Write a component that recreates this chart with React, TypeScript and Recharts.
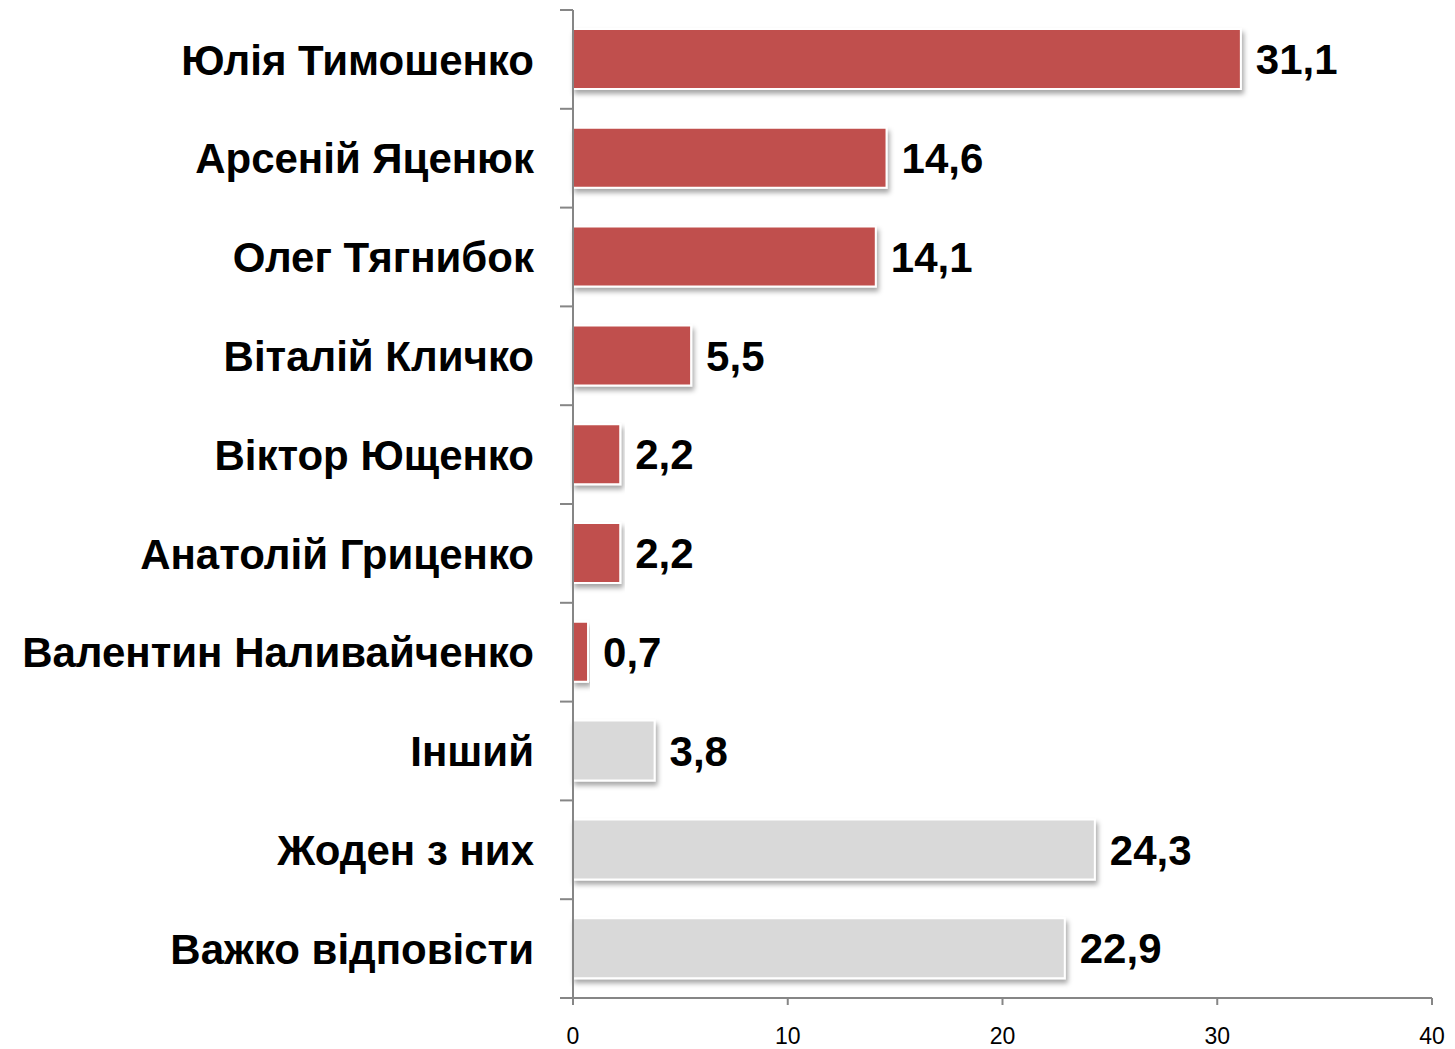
import { BarChart, Bar, XAxis, YAxis, Cell, LabelList } from 'recharts'

const names = [
  'Юлія Тимошенко',
  'Арсеній Яценюк',
  'Олег Тягнибок',
  'Віталій Кличко',
  'Віктор Ющенко',
  'Анатолій Гриценко',
  'Валентин Наливайченко',
  'Інший',
  'Жоден з них',
  'Важко відповісти',
]
const values = [31.1, 14.6, 14.1, 5.5, 2.2, 2.2, 0.7, 3.8, 24.3, 22.9]
const isCandidate = [true, true, true, true, true, true, true, false, false, false]
const xTicks = [0, 10, 20, 30, 40]

const RED = '#C0504D'
const GREY = '#D9D9D9'
const AXIS = '#868686'
const FONT = '"Liberation Sans", Arial, sans-serif'

const W = 1455
const H = 1049
const X_AXIS_H = 51
const M = { top: 10, right: 23, bottom: 0, left: 0 }
const AXIS_X = 573
const BAND = (H - M.top - X_AXIS_H) / names.length

const data = names.map((name, i) => ({
  name,
  value: values[i],
  color: isCandidate[i] ? RED : GREY,
}))

function CategoryTick(props: any) {
  const { y, payload, index } = props
  const top = y - BAND / 2
  return (
    <g>
      <line x1={AXIS_X - 13} x2={AXIS_X} y1={top} y2={top} stroke={AXIS} strokeWidth={2} />
      {index === names.length - 1 && (
        <line x1={AXIS_X - 13} x2={AXIS_X} y1={top + BAND} y2={top + BAND} stroke={AXIS} strokeWidth={2} />
      )}
      <text
        x={534}
        y={y}
        dy="0.36em"
        textAnchor="end"
        fontFamily={FONT}
        fontWeight="bold"
        fontSize={42}
        fill="#000"
      >
        {payload.value}
      </text>
    </g>
  )
}

function ValueLabel(props: any) {
  const { x, y, width, height, value } = props
  return (
    <text
      x={x + width + 15}
      y={y + height / 2}
      dy="0.36em"
      textAnchor="start"
      fontFamily={FONT}
      fontWeight="bold"
      fontSize={42}
      fill="#000"
    >
      {String(value).replace('.', ',')}
    </text>
  )
}

export default function App() {
  return (
    <div style={{ position: 'absolute', left: 0, top: 0, background: '#fff' }}>
      <BarChart
        width={W}
        height={H}
        data={data}
        layout="vertical"
        margin={M}
        barSize={60}
      >
        <defs>
          <filter id="barShadow" x="-5%" y="-20%" width="115%" height="150%">
            <feDropShadow dx="2" dy="4" stdDeviation="2.5" floodColor="#000" floodOpacity="0.35" />
          </filter>
        </defs>
        <XAxis
          type="number"
          domain={[0, 40]}
          ticks={xTicks}
          interval={0}
          height={X_AXIS_H}
          stroke={AXIS}
          strokeWidth={2}
          tickSize={7}
          tickMargin={23}
          tick={{ fill: '#000', fontSize: 23, fontFamily: FONT }}
        />
        <YAxis
          type="category"
          dataKey="name"
          width={AXIS_X}
          stroke={AXIS}
          strokeWidth={2}
          tickLine={false}
          interval={0}
          tick={<CategoryTick />}
        />
        <Bar
          dataKey="value"
          isAnimationActive={false}
          stroke="#fff"
          strokeWidth={2}
          style={{ filter: 'url(#barShadow)' }}
        >
          {data.map((d, i) => (
            <Cell key={i} fill={d.color} />
          ))}
          <LabelList dataKey="value" content={<ValueLabel />} />
        </Bar>
      </BarChart>
    </div>
  )
}
